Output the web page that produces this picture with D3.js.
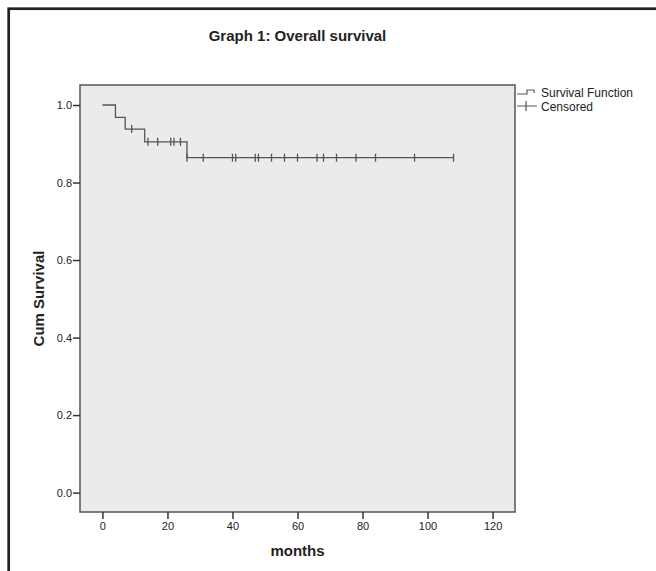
<!DOCTYPE html>
<html lang="en">
<head>
    <meta charset="UTF-8">
    <title>Graph 1: Overall survival</title>
    <style>
        body { margin: 0; background: #fff; }
        text { font-family: "Liberation Sans", Arial, sans-serif; fill: #222; }
    </style>
</head>
<body>
    <svg id="chart" width="656" height="571"></svg>

    <script src="https://d3js.org/d3.v7.min.js"></script>
    <script>
    // survival steps (time in months, cumulative survival after the drop)
    var eventTimes = [0, 4, 7, 13, 26];
    var survival = [1.0, 0.968, 0.938, 0.905, 0.864];
    // censored observations (months)
    var censorTimes = [9, 14, 17, 21, 22, 24, 26, 31, 40, 41, 47, 48, 52, 56, 60, 66, 68, 72, 78, 84, 96, 108];
    var xTicks = [0, 20, 40, 60, 80, 100, 120];
    var yTicks = [0.0, 0.2, 0.4, 0.6, 0.8, 1.0];
    var legendKeys = ["Survival Function", "Censored"];

    var margin = {top: 85, right: 141, bottom: 59, left: 80},
        width = 656 - margin.left - margin.right,
        height = 571 - margin.top - margin.bottom;

    var svg = d3.select("#chart");

    // outer frame
    svg.append("rect")
        .attr("x", 8.7)
        .attr("y", 8.7)
        .attr("width", 700)
        .attr("height", 700)
        .attr("fill", "#fff")
        .attr("stroke", "#222")
        .attr("stroke-width", 2.7);

    var x = d3.scaleLinear().domain([-6.9, 126.9]).range([0, width]);
    var y = d3.scaleLinear().domain([-0.05, 1.0516]).range([height, 0]);

    var g = svg.append("g")
        .attr("transform", "translate(" + margin.left + "," + margin.top + ")");

    g.append("rect")
        .attr("width", width)
        .attr("height", height)
        .attr("fill", "#ebebeb")
        .attr("stroke", "#555")
        .attr("stroke-width", 1.5);

    // axes
    var xAxis = g.append("g")
        .attr("transform", "translate(0," + height + ")")
        .call(d3.axisBottom(x).tickValues(xTicks).tickSize(7).tickPadding(3).tickFormat(d3.format("d")));
    var yAxis = g.append("g")
        .call(d3.axisLeft(y).tickValues(yTicks).tickSize(7).tickPadding(1).tickFormat(d3.format(".1f")));

    [xAxis, yAxis].forEach(function (a) {
        a.select(".domain").remove();
        a.selectAll("line").attr("stroke", "#333").attr("stroke-width", 1.5);
        a.selectAll("text").style("font-size", "11px").style("fill", "#222");
    });

    // step line
    function survAt(t) {
        var s = survival[0];
        for (var i = 0; i < eventTimes.length; i++) {
            if (eventTimes[i] <= t) s = survival[i];
        }
        return s;
    }

    var pts = [];
    eventTimes.forEach(function (t, i) {
        if (i > 0) pts.push([t, survival[i - 1]]);
        pts.push([t, survival[i]]);
    });
    var lastT = d3.max(censorTimes);
    pts.push([lastT, survAt(lastT)]);

    var line = d3.line()
        .x(function (d) { return x(d[0]); })
        .y(function (d) { return y(d[1]); });

    g.append("path")
        .datum(pts)
        .attr("d", line)
        .attr("fill", "none")
        .attr("stroke", "#555")
        .attr("stroke-width", 1.3);

    // censored marks
    g.selectAll(".censor")
        .data(censorTimes)
        .enter()
        .append("line")
        .attr("class", "censor")
        .attr("x1", function (d) { return x(d); })
        .attr("x2", function (d) { return x(d); })
        .attr("y1", function (d) { return y(survAt(d)) - 4; })
        .attr("y2", function (d) { return y(survAt(d)) + 4; })
        .attr("stroke", "#555")
        .attr("stroke-width", 1.3);

    // titles
    svg.append("text")
        .attr("x", margin.left + width / 2)
        .attr("y", 41)
        .attr("text-anchor", "middle")
        .style("font-size", "15px")
        .style("font-weight", "bold")
        .text("Graph 1: Overall survival");

    svg.append("text")
        .attr("x", margin.left + width / 2)
        .attr("y", 556)
        .attr("text-anchor", "middle")
        .style("font-size", "15px")
        .style("font-weight", "bold")
        .text("months");

    svg.append("text")
        .attr("transform", "translate(44," + (margin.top + height / 2) + ") rotate(-90)")
        .attr("text-anchor", "middle")
        .style("font-size", "15px")
        .style("font-weight", "bold")
        .text("Cum Survival");

    // legend
    var lx = margin.left + width + 2;
    var legend = svg.append("g").attr("transform", "translate(" + lx + ",0)");

    legend.append("path")
        .attr("d", "M0,94H10V90H17V93")
        .attr("fill", "none")
        .attr("stroke", "#555")
        .attr("stroke-width", 1.2);
    legend.append("path")
        .attr("d", "M0,106H20M9,101V111")
        .attr("fill", "none")
        .attr("stroke", "#555")
        .attr("stroke-width", 1.2);

    legend.selectAll("text.key")
        .data(legendKeys)
        .enter()
        .append("text")
        .attr("class", "key")
        .attr("x", 24)
        .attr("y", function (d, i) { return 93 + i * 14; })
        .attr("dy", "0.35em")
        .style("font-size", "12px")
        .text(function (d) { return d; });
    </script>
</body>
</html>
